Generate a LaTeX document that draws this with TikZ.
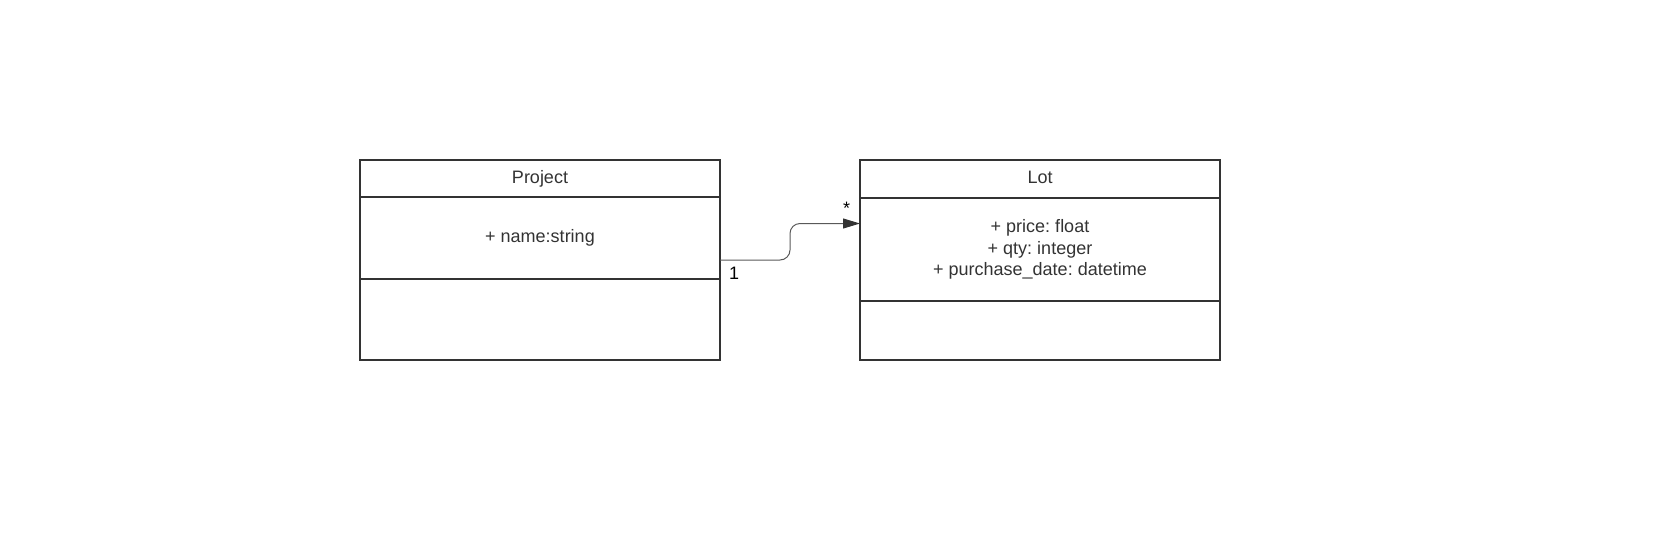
\documentclass[tikz,border=0pt]{standalone}
\usepackage{fontspec}
\setmainfont{Liberation Sans}
\usetikzlibrary{arrows.meta,calc}
\definecolor{umlline}{HTML}{333333}
\definecolor{umllink}{HTML}{595959}
\frenchspacing

\begin{document}
\begin{tikzpicture}[x=1pt, y=-1pt,
	classbox/.style={draw=umlline, line width=2pt, minimum width=360pt, inner sep=0pt, outer sep=0pt, text=umlline, align=center, font=\fontsize{18}{21}\selectfont},
	classline/.style={classbox, text height=13pt, text depth=4pt},
	multlabel/.style={inner sep=0pt, anchor=base, font=\fontsize{18}{21}\selectfont},
	assoc/.style={draw=umllink, line width=1pt, rounded corners=10pt, -{Triangle[length=17pt, width=10pt, fill=umlline, color=umlline]}}]
	%%%%% START %%%%%
	\useasboundingbox (0, 0) rectangle (1657, 544);
	
	\node[classline, minimum height=37pt] (projectHead) at (540, 178.5) {Project};
	\node[classline, minimum height=82pt] (projectAttr) at (540, 238) {+ name:string};
	\node[classbox, minimum height=81pt] (projectOps) at (540, 319.5) {};
	
	\node[classline, minimum height=38pt] (lotHead) at (1040, 179) {Lot};
	\node[classbox, minimum height=103pt] (lotAttr) at (1040, 249.5) {\raisebox{1pt}{+ price: float}\\+ qty: integer\\+ purchase\_date: datetime};
	\node[classbox, minimum height=59pt] (lotOps) at (1040, 330.5) {};
	
	\coordinate (relFrom) at ($(projectAttr.south east)+(0, -19)$);
	\coordinate (relTo) at ($(lotAttr.north west)+(0, 25.5)$);
	\draw[assoc] (relFrom) -- ++(70, 0) |- (relTo);
	
	\node[multlabel] (oneEnd) at (734, 279) {1};
	\node[multlabel] (manyEnd) at (846.5, 214.5) {*};
	
	%%%%% END %%%%%
\end{tikzpicture}
\end{document}
